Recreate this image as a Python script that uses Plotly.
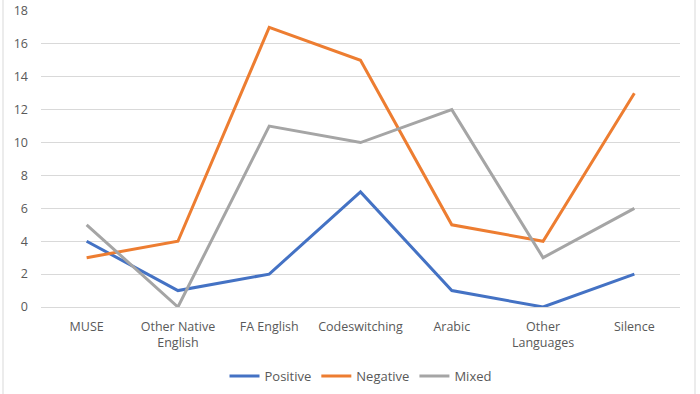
import plotly.graph_objects as go

categories = ["MUSE", "Other Native<br>English", "FA English", "Codeswitching",
              "Arabic", "Other<br>Languages", "Silence"]
positive = [4, 1, 2, 7, 1, 0, 2]
negative = [3, 4, 17, 15, 5, 4, 13]
mixed = [5, 0, 11, 10, 12, 3, 6]
y_ticks = [0, 2, 4, 6, 8, 10, 12, 14, 16, 18]

fig = go.Figure()
for name, vals, col in [("Positive", positive, "#4472C4"),
                        ("Negative", negative, "#ED7D31"),
                        ("Mixed", mixed, "#A5A5A5")]:
    fig.add_trace(go.Scatter(x=categories, y=vals, name=name, mode="lines",
                             line=dict(color=col, width=3)))

fig.update_layout(
    width=700, height=394,
    margin=dict(l=41, r=20, t=11, b=87, autoexpand=False),
    paper_bgcolor="white", plot_bgcolor="white",
    font=dict(family="Open Sans", size=12.5, color="#595959"),
    showlegend=True,
    legend=dict(orientation="h", x=0.5, xanchor="center", y=-0.233, yanchor="middle",
                font=dict(size=13, color="#595959")),
    xaxis=dict(type="category", range=[-0.5, len(categories) - 0.5], showgrid=False,
               showline=True, linecolor="#d9d9d9", automargin=False,
               linewidth=1, ticks="", ticklabelstandoff=8, zeroline=False),
    yaxis=dict(range=[0, 18], tickvals=y_ticks, showgrid=True, gridcolor="#d9d9d9",
               gridwidth=1, zeroline=False, showline=False, ticks="", automargin=False,
               ticklabelstandoff=12),
    shapes=[
        dict(type="line", xref="paper", yref="paper", x0=-38/639, x1=-38/639, y0=-1, y1=2,
             line=dict(color="#d9d9d9", width=1)),
        dict(type="line", xref="paper", yref="paper", x0=1 + 15/639, x1=1 + 15/639, y0=-1, y1=2,
             line=dict(color="#d9d9d9", width=1)),
    ],
)

fig.write_html("out.html", config={"displayModeBar": False},
               post_script="document.body.style.margin='0';")
